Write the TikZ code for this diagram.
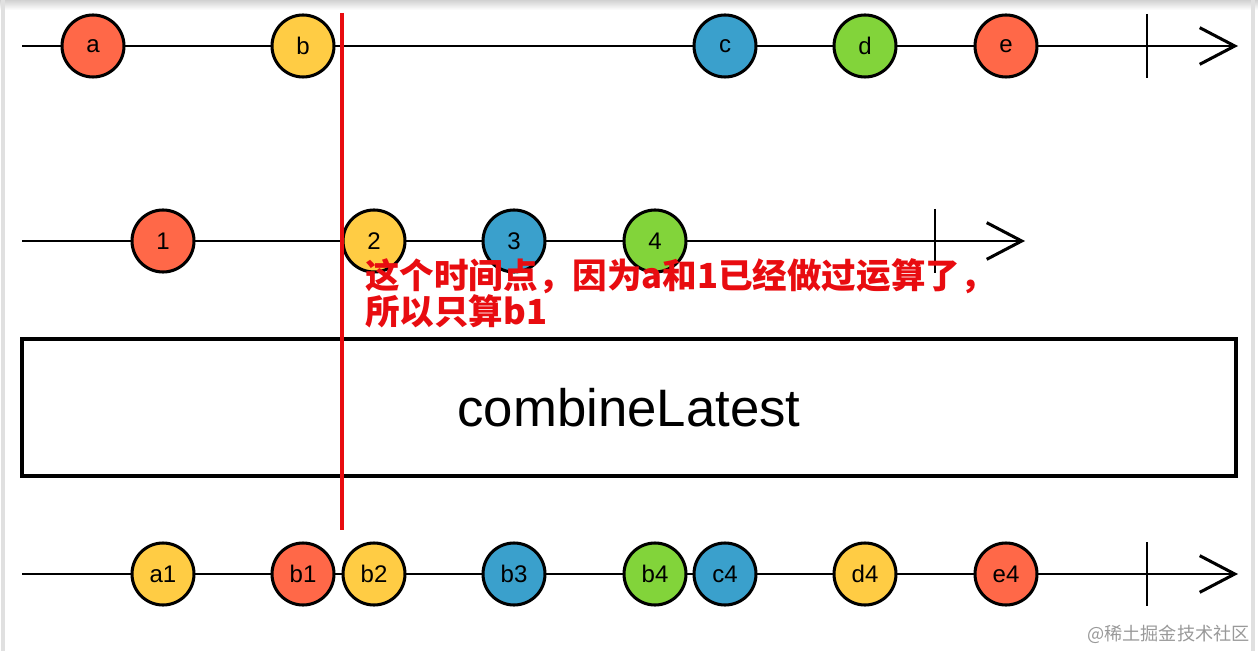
\documentclass[tikz,border=0pt]{standalone}
\usepackage{fontspec}
\setmainfont{Liberation Sans}
\newfontfamily\cjk{Noto Sans CJK SC}
\usepackage{xcolor}
\definecolor{rxred}{RGB}{255,104,72}
\definecolor{rxyellow}{RGB}{255,204,68}
\definecolor{rxblue}{RGB}{58,160,204}
\definecolor{rxgreen}{RGB}{130,212,58}
\definecolor{rxmark}{RGB}{232,12,16}
\definecolor{rxgray}{RGB}{153,153,153}
\usetikzlibrary{arrows.meta,positioning}
\tikzset{
  marble/.style={circle, draw=black, line width=2.6pt, minimum size=1.86cm, inner sep=0pt, font=\fontsize{20.5}{20.5}\selectfont},
  timeline/.style={line width=2.3pt, -{Straight Barb[length=1.05cm, width=1.1cm, line width=2.6pt]}},
  endtick/.style={line width=2.3pt},
  opbox/.style={draw=black, line width=2.8pt, minimum width=36.42cm, minimum height=4.11cm, inner sep=0pt, font=\fontsize{45}{45}\selectfont},
}
\begin{document}
\begin{tikzpicture}[x=0.03cm, y=-0.03cm]
  \useasboundingbox (0,0) rectangle (1258,651);
  %% frame of the screenshot
  \shade[top color=black!18, bottom color=white] (0,0) rectangle (1258,10);
  \fill[black!12] (1,0) rectangle (5,651);
  \fill[black!12] (1251,0) rectangle (1255,651);

  %% Row 1: source a..e
  \coordinate (r1s) at (22,46);
  \coordinate (r1e) at (1238,46);
  \coordinate (t1a) at (1147,14);
  \coordinate (t1b) at (1147,78);
  \draw[timeline] (r1s) -- (r1e);
  \draw[endtick] (t1a) -- (t1b);
  \node[marble, fill=rxred] (a) at (93,46) {a};
  \node[marble, fill=rxyellow] (b) at (303,46) {b};
  \node[marble, fill=rxblue] (c) at (725,46) {c};
  \node[marble, fill=rxgreen] (d) at (865,46) {d};
  \node[marble, fill=rxred] (e) at (1006,46) {e};

  %% Row 2: source 1..4
  \coordinate (r2s) at (22,241);
  \coordinate (r2e) at (1025,241);
  \coordinate (t2a) at (935,209);
  \coordinate (t2b) at (935,273);
  \draw[timeline] (r2s) -- (r2e);
  \draw[endtick] (t2a) -- (t2b);
  \node[marble, fill=rxred] (n1) at (163,241) {1};
  \node[marble, fill=rxyellow] (n2) at (374,241) {2};
  \node[marble, fill=rxblue] (n3) at (514,241) {3};
  \node[marble, fill=rxgreen] (n4) at (655,241) {4};

  %% Operator
  \node[opbox] (op) at (629,407.5) {combineLatest};

  %% Row 3: result
  \coordinate (r3s) at (22,574);
  \coordinate (r3e) at (1238,574);
  \coordinate (t3a) at (1147,542);
  \coordinate (t3b) at (1147,606);
  \draw[timeline] (r3s) -- (r3e);
  \draw[endtick] (t3a) -- (t3b);
  \node[marble, fill=rxyellow] (a1) at (163,574) {a1};
  \node[marble, fill=rxred] (b1) at (303,574) {b1};
  \node[marble, fill=rxyellow] (b2) at (374,574) {b2};
  \node[marble, fill=rxblue] (b3) at (514,574) {b3};
  \node[marble, fill=rxgreen] (b4) at (655,574) {b4};
  \node[marble, fill=rxblue] (c4) at (725,574) {c4};
  \node[marble, fill=rxyellow] (d4) at (865,574) {d4};
  \node[marble, fill=rxred] (e4) at (1006,574) {e4};

  %% Red marker and note
  \coordinate (mtop) at (342,13);
  \coordinate (mbot) at (342,530);
  \draw[rxmark, line width=2.8pt] (mtop) -- (mbot);
  \node[anchor=north west, align=left, inner sep=0pt, text=rxmark, font=\cjk\bfseries\fontsize{29.5}{26.5}\selectfont] (note) at (365,258) {这个时间点，因为a和1已经做过运算了，\\所以只算b1};

  \node[anchor=east, inner sep=0pt, text=rxgray, font=\cjk\fontsize{15.5}{15.5}\selectfont] (mark) at (1250,634) {@稀土掘金技术社区};
\end{tikzpicture}
\end{document}
